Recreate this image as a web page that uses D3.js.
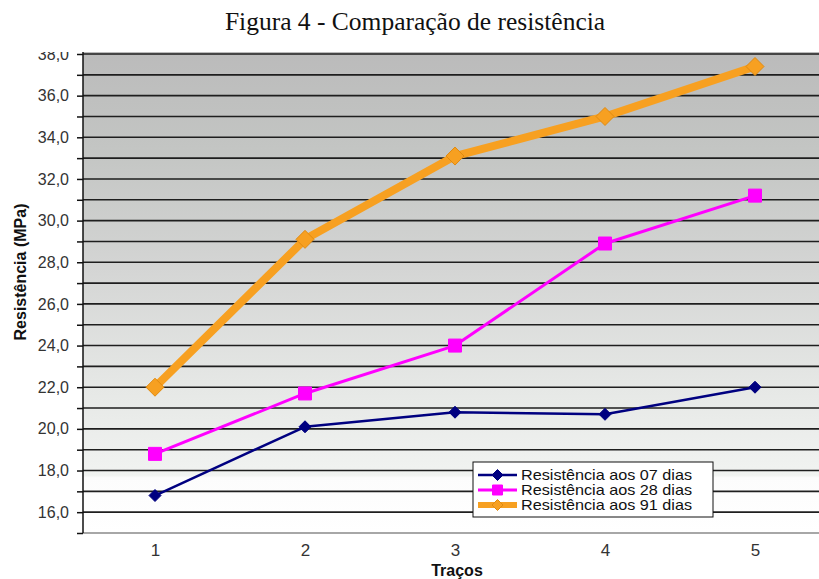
<!DOCTYPE html>
<html>
<head>
<meta charset="utf-8">
<script src="https://cdn.jsdelivr.net/npm/d3@7"></script>
<style>
  body { margin: 0; background: #fff; }
  svg text { font-family: Arial, "Liberation Sans", sans-serif; }
</style>
</head>
<body>
<div id="chart"></div>
<script>
// dados
var tracos = ["1", "2", "3", "4", "5"];
var dias07 = [16.8, 20.1, 20.8, 20.7, 22.0];
var dias28 = [18.8, 21.7, 24.0, 28.9, 31.2];
var dias91 = [22.0, 29.1, 33.1, 35.0, 37.4];
var seriesNames = ["Resistência aos 07 dias", "Resistência aos 28 dias", "Resistência aos 91 dias"];
var yTicks = [16, 18, 20, 22, 24, 26, 28, 30, 32, 34, 36, 38];

var W = 819, H = 579;
var margins = { left: 83, top: 54, right: -12, bottom: 46 };
var width = W - margins.left - margins.right;
var height = H - margins.top - margins.bottom;

var series = [
    { name: seriesNames[0], values: dias07, color: "#000080", width: 2.5, marker: "diamond", size: 6, stroke: "#000080" },
    { name: seriesNames[1], values: dias28, color: "#ff00ff", width: 3, marker: "square", size: 6.5, stroke: "#ff00ff" },
    { name: seriesNames[2], values: dias91, color: "#f7a021", width: 8, marker: "diamond", size: 9, stroke: "#e08a10" }
];

var svg = d3.select("#chart").append("svg")
    .attr("width", W).attr("height", H);

var defs = svg.append("defs");
var grad = defs.append("linearGradient").attr("id", "bg")
    .attr("x1", 0).attr("y1", 0).attr("x2", 0).attr("y2", 1);
[[0, "#bbbbbb"], [0.2, "#c3c5c3"], [0.45, "#d4d5d4"], [0.7, "#e6e8e6"], [0.88, "#f1f3f1"], [0.885, "#fcfcfc"], [1, "#ffffff"]]
    .forEach(function (s) { grad.append("stop").attr("offset", s[0]).attr("stop-color", s[1]); });
defs.append("clipPath").attr("id", "clip")
    .append("rect").attr("x", 0).attr("y", 52).attr("width", W).attr("height", H - 52);

// titulo
svg.append("text")
    .attr("x", 415).attr("y", 30)
    .attr("text-anchor", "middle")
    .style("font-family", "'Liberation Serif', 'Times New Roman', serif")
    .style("font-size", "25.5px")
    .attr("fill", "#111")
    .text("Figura 4 - Comparação de resistência");

var root = svg.append("g").attr("clip-path", "url(#clip)");
var g = root.append("g")
    .attr("transform", "translate(" + margins.left + "," + margins.top + ")");

var x = d3.scalePoint().domain(tracos).range([72, 672]);
var y = d3.scaleLinear().domain([15, 38]).range([height, 0]);

g.append("rect")
    .attr("x", 0).attr("y", -2)
    .attr("width", width).attr("height", height + 2)
    .attr("fill", "url(#bg)");

// linhas de grade
g.selectAll(".grid")
    .data(d3.range(16, 39))
    .join("line")
    .attr("class", "grid")
    .attr("x1", 0).attr("x2", width)
    .attr("y1", d => y(d)).attr("y2", d => y(d))
    .attr("stroke", "#1e1e1e").attr("stroke-width", 1.6);

// eixo X
g.append("line")
    .attr("x1", 0).attr("x2", width)
    .attr("y1", height).attr("y2", height)
    .attr("stroke", "#8a8a8a").attr("stroke-width", 1.5);
var xAxis = d3.axisBottom(x).tickSize(0).tickPadding(11);
var gx = g.append("g").attr("transform", "translate(0," + height + ")").call(xAxis);
gx.select(".domain").remove();
gx.selectAll("text").style("font-size", "17px").attr("fill", "#333");

// eixo Y
var yAxis = d3.axisLeft(y)
    .tickValues(d3.range(15, 39))
    .tickSize(6)
    .tickPadding(8)
    .tickFormat(d => yTicks.indexOf(d) >= 0 ? d3.format(".1f")(d).replace(".", ",") : "");
var gy = g.append("g").call(yAxis);
gy.select(".domain").attr("stroke", "#111").attr("stroke-width", 1.5).attr("d", "M0," + (-2) + "V" + height);
gy.selectAll(".tick line").attr("stroke", "#111").attr("stroke-width", 1.5);
gy.selectAll("text").style("font-size", "16px").attr("fill", "#333");

// titulos dos eixos
svg.append("text")
    .attr("transform", "translate(26,272) rotate(-90)")
    .attr("text-anchor", "middle")
    .style("font-size", "16px").style("font-weight", "bold")
    .attr("fill", "#111")
    .text("Resistência (MPa)");
svg.append("text")
    .attr("x", 457).attr("y", 576)
    .attr("text-anchor", "middle")
    .style("font-size", "16px").style("font-weight", "bold")
    .attr("fill", "#111")
    .text("Traços");

function markerPath(type, s) {
    if (type === "diamond") return "M0," + (-s) + "L" + s + ",0L0," + s + "L" + (-s) + ",0Z";
    return "M" + (-s) + "," + (-s) + "H" + s + "V" + s + "H" + (-s) + "Z";
}

var line = d3.line().x((d, i) => x(tracos[i])).y(d => y(d));

series.forEach(function (s) {
    g.append("path")
        .datum(s.values)
        .attr("d", line)
        .attr("fill", "none")
        .attr("stroke", s.color)
        .attr("stroke-width", s.width)
        .attr("stroke-linejoin", "round");
    g.selectAll(null)
        .data(s.values)
        .join("path")
        .attr("transform", (d, i) => "translate(" + x(tracos[i]) + "," + y(d) + ")")
        .attr("d", markerPath(s.marker, s.size))
        .attr("fill", s.color)
        .attr("stroke", s.stroke)
        .attr("stroke-width", 1);
});

// legenda
var legend = svg.append("g").attr("transform", "translate(473,462)");
legend.append("rect")
    .attr("width", 240).attr("height", 55)
    .attr("fill", "#fff").attr("stroke", "#111").attr("stroke-width", 1);
var items = legend.selectAll(".item")
    .data(series)
    .join("g")
    .attr("class", "item")
    .attr("transform", (d, i) => "translate(0," + (13 + i * 15) + ")");
items.append("line")
    .attr("x1", 5).attr("x2", 44)
    .attr("stroke", d => d.color)
    .attr("stroke-width", d => Math.min(d.width, 6));
items.append("path")
    .attr("transform", "translate(24.5,0)")
    .attr("d", d => markerPath(d.marker, d.marker === "square" ? 5 : 5.5))
    .attr("fill", d => d.color)
    .attr("stroke", d => d.stroke);
items.append("text")
    .attr("transform", "translate(48,0) scale(1.08,1)")
    .attr("dy", "0.36em")
    .style("font-size", "15px")
    .attr("fill", "#111")
    .text(d => d.name);
</script>
</body>
</html>
